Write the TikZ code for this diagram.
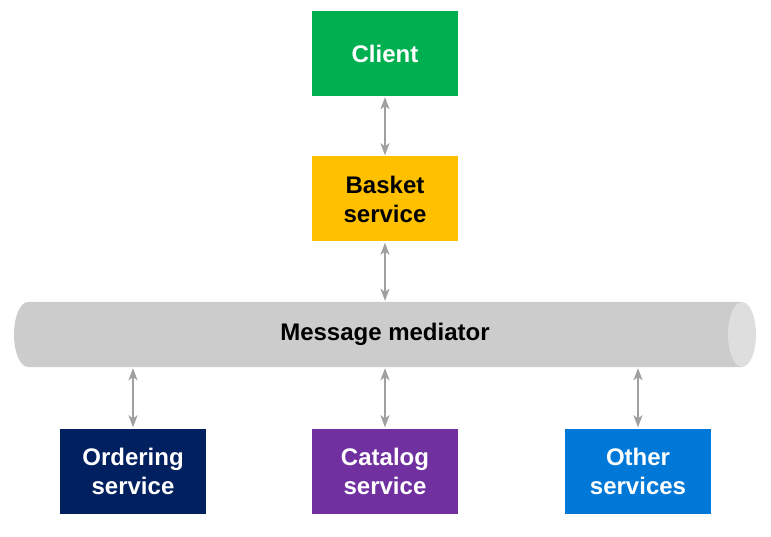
\documentclass[tikz,border=0pt]{standalone}
\usepackage{fontspec}
\setmainfont{Liberation Sans}
\usetikzlibrary{arrows.meta}
\definecolor{cgreen}{HTML}{00B050}
\definecolor{cyellow}{HTML}{FFC000}
\definecolor{cnavy}{HTML}{002060}
\definecolor{cpurple}{HTML}{7030A0}
\definecolor{cblue}{HTML}{0078D7}
\definecolor{cylbody}{HTML}{CCCCCC}
\definecolor{cylend}{HTML}{DEDEDE}
\definecolor{arrgray}{HTML}{A0A0A0}
\tikzset{
  box/.style={rectangle, minimum width=146pt, minimum height=85pt, inner sep=0pt, align=center,
    font=\fontsize{24}{29}\selectfont\bfseries, text=white},
  link/.style={draw=arrgray, line width=1.5pt, {Stealth[length=12pt,width=9pt,inset=3pt]}-{Stealth[length=12pt,width=9pt,inset=3pt]}, shorten >=1pt, shorten <=1pt}
}
\begin{document}
\begin{tikzpicture}[x=1pt,y=1pt]
\useasboundingbox (0,0) rectangle (771,536);
% cylinder
\fill[cylbody] (28,234) -- (742,234) -- (742,169) -- (28,169)
  arc[start angle=270, end angle=90, x radius=14, y radius=32.5] -- cycle;
\fill[cylend] (742,201.5) ellipse[x radius=14, y radius=32.5];
\node[rectangle, minimum width=743pt, minimum height=65pt, inner sep=0pt,
  font=\fontsize{24}{29}\selectfont\bfseries] (mm) at (385,201.5) {Message mediator};
% boxes
\node[box, fill=cgreen] (client) at (385,482.5) {Client};
\node[box, fill=cyellow, text=black] (basket) at (385,337) {Basket\\service};
\node[box, fill=cnavy] (ordering) at (133,65) {Ordering\\service};
\node[box, fill=cpurple] (catalog) at (385,65) {Catalog\\service};
\node[box, fill=cblue] (other) at (638,65) {Other\\services};
% connectors
\draw[link] (client.south) -- (basket.north);
\draw[link] (basket.south) -- (mm.north -| basket.south);
\draw[link] (mm.south -| ordering.north) -- (ordering.north);
\draw[link] (mm.south -| catalog.north) -- (catalog.north);
\draw[link] (mm.south -| other.north) -- (other.north);
\end{tikzpicture}
\end{document}
